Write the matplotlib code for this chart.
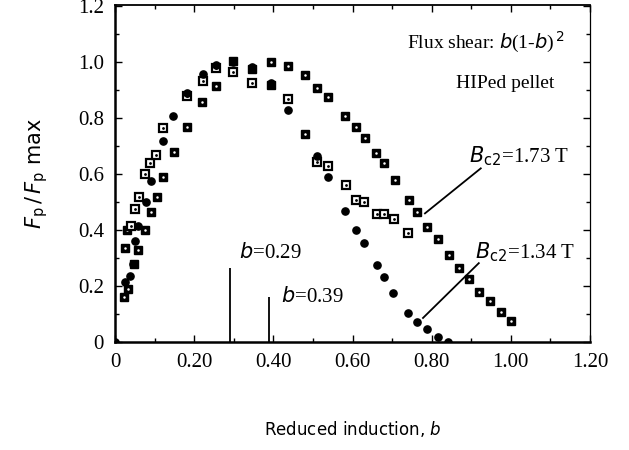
import matplotlib
matplotlib.use('Agg')
import matplotlib.pyplot as plt
from matplotlib.ticker import MultipleLocator, FixedLocator

# reduced induction b and normalised pinning force
circle_b = [0.000, 0.025, 0.038, 0.045, 0.050, 0.058, 0.078, 0.090, 0.121, 0.146,
            0.181, 0.222, 0.254, 0.297, 0.347, 0.393, 0.436, 0.509, 0.539, 0.580,
            0.609, 0.630, 0.662, 0.680, 0.703, 0.741, 0.763, 0.789, 0.816, 0.841]
circle_f = [0.000, 0.214, 0.236, 0.280, 0.360, 0.414, 0.500, 0.575, 0.720, 0.810,
            0.890, 0.960, 0.990, 1.000, 0.985, 0.925, 0.830, 0.665, 0.590, 0.470,
            0.400, 0.354, 0.275, 0.232, 0.175, 0.104, 0.070, 0.045, 0.018, 0.000]

filled_b = [0.023, 0.033, 0.048, 0.025, 0.030, 0.058, 0.076, 0.090, 0.106, 0.121,
            0.149, 0.181, 0.219, 0.254, 0.297, 0.347, 0.393, 0.393, 0.436, 0.479,
            0.479, 0.511, 0.539, 0.582, 0.609, 0.632, 0.660, 0.680, 0.708, 0.743,
            0.763, 0.788, 0.816, 0.844, 0.869, 0.894, 0.919, 0.947, 0.975, 1.000]
filled_f = [0.160, 0.190, 0.280, 0.335, 0.400, 0.330, 0.400, 0.464, 0.520, 0.590,
            0.680, 0.770, 0.860, 0.914, 1.005, 0.975, 1.000, 0.918, 0.986, 0.954,
            0.743, 0.907, 0.875, 0.807, 0.768, 0.729, 0.675, 0.640, 0.580, 0.507,
            0.464, 0.410, 0.370, 0.310, 0.264, 0.225, 0.180, 0.146, 0.107, 0.075]

open_b = [0.040, 0.050, 0.060, 0.076, 0.088, 0.103, 0.121, 0.181, 0.222, 0.254,
          0.297, 0.347, 0.436, 0.511, 0.539, 0.584, 0.609, 0.630, 0.662, 0.680,
          0.705, 0.740]
open_f = [0.414, 0.475, 0.520, 0.600, 0.640, 0.668, 0.765, 0.880, 0.935, 0.980,
          0.965, 0.925, 0.870, 0.645, 0.630, 0.560, 0.507, 0.500, 0.457, 0.457,
          0.440, 0.390]

peak_b = [0.29, 0.39]
peak_h = [0.265, 0.16]
peak_labels = ['$b$=0.29', '$b$=0.39']

x_ticks = [0, 0.2, 0.4, 0.6, 0.8, 1.0, 1.2]
x_tick_labels = ['0', '0.20', '0.40', '0.60', '0.80', '1.00', '1.20']
y_ticks = [0, 0.2, 0.4, 0.6, 0.8, 1.0, 1.2]
y_tick_labels = ['0', '0.2', '0.4', '0.6', '0.8', '1.0', '1.2']

plt.rcParams['mathtext.fontset'] = 'dejavusans'
serif = 'Liberation Serif'

fig = plt.figure(figsize=(6.29, 4.5), dpi=100)
ax = fig.add_axes([0.183, 0.24, 0.755, 0.75])

ms = 5.8
ax.plot(filled_b, filled_f, 's', color='black', ms=ms, zorder=3)
ax.plot(filled_b, filled_f, '.', color='white', ms=1.6, zorder=4)
ax.plot(open_b, open_f, 's', mfc='white', mec='black', mew=1.6, ms=ms, zorder=5)
ax.plot(open_b, open_f, '.', color='black', ms=2.0, zorder=6)
ax.plot(circle_b, circle_f, 'o', color='black', ms=5.2, zorder=7)

# peak position markers
ax.vlines(peak_b, 0, peak_h, color='black', lw=1.3)
ax.text(peak_b[0] + 0.022, 0.32, peak_labels[0], fontsize=15, family=serif,
        ha='left', va='center')
ax.text(peak_b[1] + 0.028, 0.16, peak_labels[1], fontsize=15, family=serif,
        ha='left', va='center')

ax.text(1.135, 1.07, 'Flux shear: $b$(1-$b$)$^{\\,2}$', fontsize=14, family=serif,
        ha='right', va='center')
ax.text(1.11, 0.925, 'HIPed pellet', fontsize=14, family=serif,
        ha='right', va='center')

ax.text(0.895, 0.665, '$B_{\\rm c2}$=1.73 T', fontsize=15, family=serif,
        ha='left', va='center')
ax.plot([0.924, 0.783], [0.621, 0.46], color='black', lw=1.3)
ax.text(0.91, 0.32, '$B_{\\rm c2}$=1.34 T', fontsize=15, family=serif,
        ha='left', va='center')
ax.plot([0.919, 0.778], [0.282, 0.086], color='black', lw=1.3)

ax.set_xlim(0, 1.2)
ax.set_ylim(0, 1.207)
ax.xaxis.set_major_locator(FixedLocator(x_ticks))
ax.yaxis.set_major_locator(FixedLocator(y_ticks))
ax.set_xticklabels(x_tick_labels, family=serif, fontsize=15)
ax.set_yticklabels(y_tick_labels, family=serif, fontsize=15)
ax.xaxis.set_minor_locator(MultipleLocator(0.1))
ax.yaxis.set_minor_locator(MultipleLocator(0.1))
ax.tick_params(which='both', direction='in', top=True, right=True, width=1.0)
ax.tick_params(which='major', length=5, pad=8)
ax.tick_params(which='minor', length=3)

ax.spines['left'].set_linewidth(1.8)
ax.spines['bottom'].set_linewidth(1.8)
ax.spines['top'].set_linewidth(1.3)
ax.spines['right'].set_linewidth(0.9)

ax.set_xlabel('Reduced induction, $b$', fontsize=12, labelpad=34)
ax.set_ylabel('$F_{\\rm p}\\,/\\,F_{\\rm p}$ max', fontsize=15, labelpad=20)

fig.savefig('out.png', dpi=100, facecolor='white')
